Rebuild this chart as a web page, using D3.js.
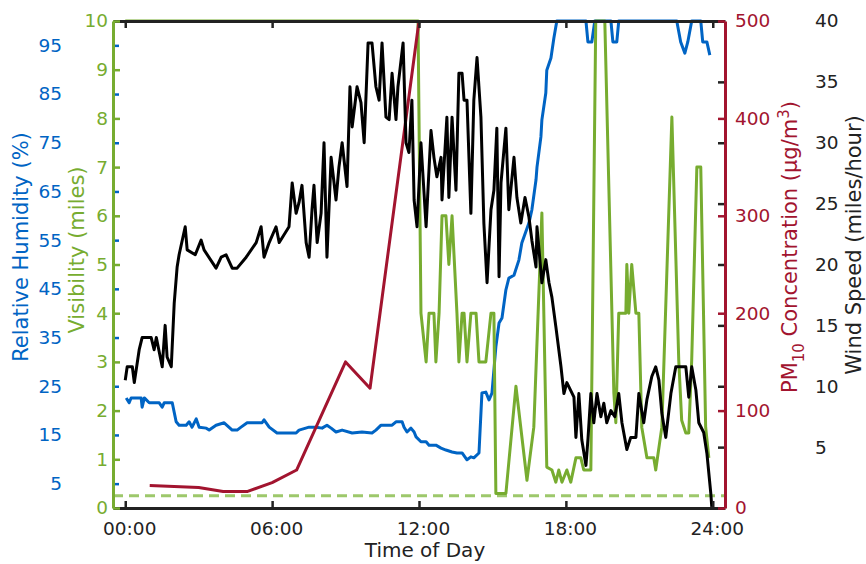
<!DOCTYPE html>
<html>
<head>
<meta charset="utf-8">
<script src="https://cdn.jsdelivr.net/npm/d3@7"></script>
<style>
  body { margin: 0; background: #fff; }
  text { font-family: "DejaVu Sans", Verdana, sans-serif; }
</style>
</head>
<body>
<svg id="chart"></svg>
<script>
// time axis
const hourTicks = [0, 6, 12, 18, 24];
const hourLabels = ["00:00", "06:00", "12:00", "18:00", "24:00"];

// wind speed (miles/hour), black
const windHour = [0.00,0.08,0.29,0.37,0.57,0.69,1.06,1.18,1.27,1.51,1.63,1.71,1.88,2.00,2.12,2.20,2.45,2.53,2.86,3.10,3.22,3.71,3.92,4.12,4.37,4.57,4.94,5.35,5.55,5.67,5.88,6.16,6.29,6.69,6.82,6.98,7.10,7.22,7.39,7.51,7.63,7.71,7.84,8.00,8.12,8.24,8.41,8.61,8.73,8.86,9.06,9.18,9.27,9.47,9.63,9.76,9.92,10.08,10.24,10.37,10.49,10.65,10.78,10.90,11.06,11.14,11.35,11.47,11.59,11.71,11.80,11.92,12.08,12.29,12.49,12.61,12.73,12.90,12.94,13.14,13.22,13.35,13.51,13.63,13.76,13.84,13.96,14.12,14.24,14.37,14.53,14.65,14.78,14.94,15.06,15.18,15.27,15.35,15.55,15.67,15.88,16.00,16.16,16.33,16.49,16.61,16.78,16.82,17.02,17.18,17.31,17.43,17.59,17.80,17.92,18.04,18.33,18.41,18.53,18.65,18.82,18.90,19.02,19.14,19.27,19.43,19.55,19.67,19.84,20.00,20.16,20.29,20.49,20.65,20.86,20.98,21.18,21.31,21.51,21.67,21.80,21.92,22.08,22.29,22.49,22.90,23.02,23.14,23.31,23.43,23.63,23.76,23.92,23.96];
const windMph = [10.5,11.6,11.6,10.3,13.0,14.0,14.0,13.0,14.0,11.6,15.0,12.4,11.6,16.8,19.8,20.8,23.1,21.2,20.8,22.0,21.2,19.7,20.6,20.8,19.7,19.7,20.6,21.8,23.1,20.6,21.8,23.1,21.8,23.1,26.7,24.2,25.1,26.5,21.8,20.6,24.5,26.5,21.8,24.2,30.0,20.6,28.8,25.3,28.0,30.0,26.4,34.6,31.3,34.6,33.3,30.0,38.2,38.2,34.6,33.5,38.2,32.1,31.9,35.7,31.9,34.6,38.2,30.0,29.2,33.5,25.3,23.1,30.0,23.1,31.0,28.8,27.2,28.8,25.3,32.1,25.5,32.1,26.1,35.7,35.7,33.5,33.5,24.2,33.5,37.0,32.1,23.4,18.5,24.5,26.1,31.2,19.0,26.7,31.2,24.5,28.8,25.5,23.4,25.5,23.9,22.0,19.8,23.1,18.5,20.4,18.5,17.3,14.9,11.6,9.4,10.3,9.1,5.8,9.4,5.6,3.5,5.6,9.4,7.0,9.4,7.5,8.6,7.0,8.0,7.5,9.4,7.0,4.8,5.8,5.8,9.4,7.0,8.9,10.8,11.6,10.5,7.8,5.8,9.4,11.6,11.6,9.1,11.6,9.7,7.0,6.2,4.5,1.2,0.1];

// relative humidity (%), blue
const humHour = [0.04,0.16,0.24,0.65,0.69,0.78,0.98,1.39,1.51,1.59,1.92,2.08,2.20,2.49,2.61,2.73,2.90,3.02,3.31,3.43,3.71,4.04,4.37,4.57,4.73,4.98,5.59,5.67,5.88,6.20,6.98,7.10,7.51,7.80,8.04,8.24,8.41,8.61,8.86,9.27,9.67,10.08,10.24,10.45,10.90,11.06,11.31,11.39,11.51,11.67,11.80,11.88,12.08,12.29,12.41,12.69,12.90,13.10,13.35,13.55,13.76,13.96,14.12,14.24,14.45,14.57,14.73,14.86,14.98,15.14,15.27,15.39,15.55,15.67,15.88,16.08,16.20,16.49,16.61,16.78,16.82,16.98,17.02,17.18,17.22,17.39,17.51,17.63,18.82,18.90,19.06,19.18,19.84,19.92,20.08,20.16,22.53,22.69,22.86,22.98,23.14,23.51,23.59,23.76,23.88];
const humPct = [22.6,21.6,22.6,22.6,20.7,22.6,21.6,21.6,20.7,21.6,21.6,17.7,17.0,17.0,17.7,16.6,18.3,16.6,16.4,16.0,17.0,17.5,16.0,16.0,16.6,17.5,17.5,18.1,16.6,15.4,15.4,16.0,16.6,16.6,16.4,17.0,16.4,15.6,16.0,15.4,15.6,15.4,16.0,17.0,17.0,17.7,17.7,16.6,15.6,16.4,15.6,14.6,13.6,13.6,12.9,12.9,12.3,11.9,11.5,11.3,11.3,9.9,10.5,10.3,11.3,23.6,23.8,22.2,23.6,33.1,38.0,39.0,44.8,47.2,47.8,50.9,54.4,58.5,61.2,67.4,70.0,76.2,79.7,85.2,89.9,92.4,96.5,100,100,95.7,95.7,100,100,95.7,95.7,100,100,95.7,93.4,95.7,100,100,95.7,95.7,93.0];

// visibility (miles), green
const visHour = [0,11.96,12.08,12.29,12.41,12.61,12.69,12.82,12.94,13.10,13.22,13.35,13.55,13.63,13.76,13.84,13.96,14.12,14.33,14.45,14.73,14.94,15.06,15.14,15.55,15.96,16.41,16.69,17.02,17.22,17.43,17.59,17.71,17.84,18.04,18.20,18.41,18.61,18.73,19.02,19.22,19.59,19.96,20.04,20.16,20.45,20.49,20.57,20.69,20.86,20.98,21.10,21.31,21.59,21.67,21.92,22.33,22.61,22.73,22.90,23.02,23.14,23.35,23.51,23.71,23.84];
const visMiles = [10,10,4.0,3.0,4.0,4.0,3.0,4.0,6.0,6.0,5.0,6.0,4.0,3.0,4.0,4.0,3.0,4.0,4.0,3.0,3.0,4.0,4.0,0.3,0.3,2.5,0.57,1.66,6.06,0.84,0.78,0.53,0.78,0.53,0.78,0.53,1.03,1.03,0.78,0.78,10,10,2.36,1.75,4.0,4.0,5.0,4.0,5.0,4.0,4.0,1.66,1.03,1.03,0.78,1.66,8.03,3.04,1.8,1.54,1.54,3.04,7.0,7.0,1.66,1.03];
const visLimit = 0.25;

// PM10 concentration (ug/m3), red
const pmHour = [1, 3, 4, 5, 6, 7, 9, 10, 12];
const pmConc = [23, 21, 17, 17, 26, 39, 150, 123, 500];

const humTicks = [5, 15, 25, 35, 45, 55, 65, 75, 85, 95];
const visTicks = [0, 1, 2, 3, 4, 5, 6, 7, 8, 9, 10];
const pmTicks = [0, 100, 200, 300, 400, 500];
const windTicks = [5, 10, 15, 20, 25, 30, 35, 40];

function chart(){
    const width = 866, height = 564;
    const left = 113, right = 725, top = 21, bottom = 508;
    const blue = "#0064c4", green = "#77ac30", red = "#a2142f", dark = "#222222";
    const fs = 18.5;

    const svg = d3.select("#chart")
        .attr("width", width)
        .attr("height", height);

    const x = d3.scaleLinear().domain([-0.5, 24.5]).range([left, right]);
    const yHum = d3.scaleLinear().domain([0, 100]).range([bottom, top]);
    const yVis = d3.scaleLinear().domain([0, 10]).range([bottom, top]);
    const yPm = d3.scaleLinear().domain([0, 500]).range([bottom, top]);
    const yWind = d3.scaleLinear().domain([0, 40]).range([bottom, top]);

    svg.append("clipPath").attr("id", "clip")
        .append("rect")
        .attr("x", left).attr("y", top - 3)
        .attr("width", right - left).attr("height", bottom - top + 3);

    const plot = svg.append("g").attr("clip-path", "url(#clip)");

    function series(xs, ys, yScale){
        return d3.line()
            .x(function(d, i){ return x(xs[i]); })
            .y(function(d, i){ return yScale(ys[i]); })(xs);
    }

    // humidity goes under the frame
    plot.append("path")
        .attr("d", series(humHour, humPct, yHum))
        .attr("fill", "none").attr("stroke", blue)
        .attr("stroke-width", 3).attr("stroke-linejoin", "round");

    const styleAxis = function(g, color){
        g.attr("font-family", null).attr("font-size", fs);
        g.selectAll(".domain").attr("stroke", color).attr("stroke-width", 3);
        g.selectAll(".tick line").attr("stroke", color).attr("stroke-width", 2.5);
        g.selectAll(".tick text").attr("fill", color);
    };

    // top and bottom axes (time)
    svg.append("g")
        .attr("transform", "translate(0," + top + ")")
        .call(d3.axisTop(x).tickValues(hourTicks).tickSize(-7).tickSizeOuter(0).tickFormat(""))
        .call(styleAxis, dark);

    svg.append("g")
        .attr("transform", "translate(0," + bottom + ")")
        .call(d3.axisBottom(x).tickValues(hourTicks).tickSize(-7).tickSizeOuter(0).tickPadding(14)
            .tickFormat(function(d, i){ return hourLabels[i]; }))
        .call(styleAxis, dark)
        .call(function(g){ g.selectAll(".tick text").attr("dx", 4); });

    // left: humidity labels (blue), visibility axis (green)
    svg.append("g")
        .attr("transform", "translate(" + left + ",0)")
        .call(d3.axisLeft(yHum).tickValues(humTicks).tickSize(-6).tickSizeOuter(0).tickPadding(51))
        .call(styleAxis, blue)
        .call(function(g){ g.select(".domain").remove(); });

    svg.append("g")
        .attr("transform", "translate(" + left + ",0)")
        .call(d3.axisLeft(yVis).tickValues(visTicks).tickSize(-7).tickSizeOuter(0).tickPadding(5))
        .call(styleAxis, green);

    // right: wind ticks (black) and PM10 axis (red)
    svg.append("g")
        .attr("transform", "translate(" + right + ",0)")
        .call(d3.axisRight(yWind).tickValues(windTicks).tickSize(-7).tickSizeOuter(0).tickPadding(90))
        .call(styleAxis, dark)
        .call(function(g){ g.select(".domain").remove(); });

    svg.append("g")
        .attr("transform", "translate(" + right + ",0)")
        .call(d3.axisRight(yPm).tickValues(pmTicks).tickSize(-7).tickSizeOuter(0).tickPadding(10))
        .call(styleAxis, red);

    // visibility threshold (dashed)
    plot.append("line")
        .attr("x1", left).attr("x2", right)
        .attr("y1", yVis(visLimit)).attr("y2", yVis(visLimit))
        .attr("stroke", "#9dc86b").attr("stroke-width", 3)
        .attr("stroke-dasharray", "10,6");

    plot.append("path")
        .attr("d", series(visHour, visMiles, yVis))
        .attr("fill", "none").attr("stroke", green)
        .attr("stroke-width", 3).attr("stroke-linejoin", "round");

    plot.append("path")
        .attr("d", series(pmHour, pmConc, yPm))
        .attr("fill", "none").attr("stroke", red)
        .attr("stroke-width", 3).attr("stroke-linejoin", "round");

    plot.append("path")
        .attr("d", series(windHour, windMph, yWind))
        .attr("fill", "none").attr("stroke", "#000")
        .attr("stroke-width", 3).attr("stroke-linejoin", "round");

    // axis titles
    svg.append("text")
        .attr("transform", "translate(425,557)")
        .attr("text-anchor", "middle").attr("font-size", 20).attr("fill", dark)
        .text("Time of Day");

    svg.append("text")
        .attr("transform", "translate(28,247) rotate(-90)")
        .attr("text-anchor", "middle").attr("font-size", 21).attr("fill", blue)
        .text("Relative Humidity (%)");

    svg.append("text")
        .attr("transform", "translate(84,250) rotate(-90)")
        .attr("text-anchor", "middle").attr("font-size", 21).attr("fill", green)
        .text("Visibility (miles)");

    const pmTitle = svg.append("text")
        .attr("transform", "translate(797,247) rotate(-90)")
        .attr("text-anchor", "middle").attr("font-size", 21).attr("fill", red);
    pmTitle.append("tspan").text("PM");
    pmTitle.append("tspan").attr("font-size", 15).attr("dy", 7).text("10");
    pmTitle.append("tspan").attr("dy", -7).text(" Concentration (\u03bcg/m");
    pmTitle.append("tspan").attr("font-size", 15).attr("dy", -8).text("3");
    pmTitle.append("tspan").attr("dy", 8).text(")");

    svg.append("text")
        .attr("transform", "translate(861,245) rotate(-90)")
        .attr("text-anchor", "middle").attr("font-size", 21).attr("fill", dark)
        .text("Wind Speed (miles/hour)");
}
chart();
</script>
</body>
</html>
